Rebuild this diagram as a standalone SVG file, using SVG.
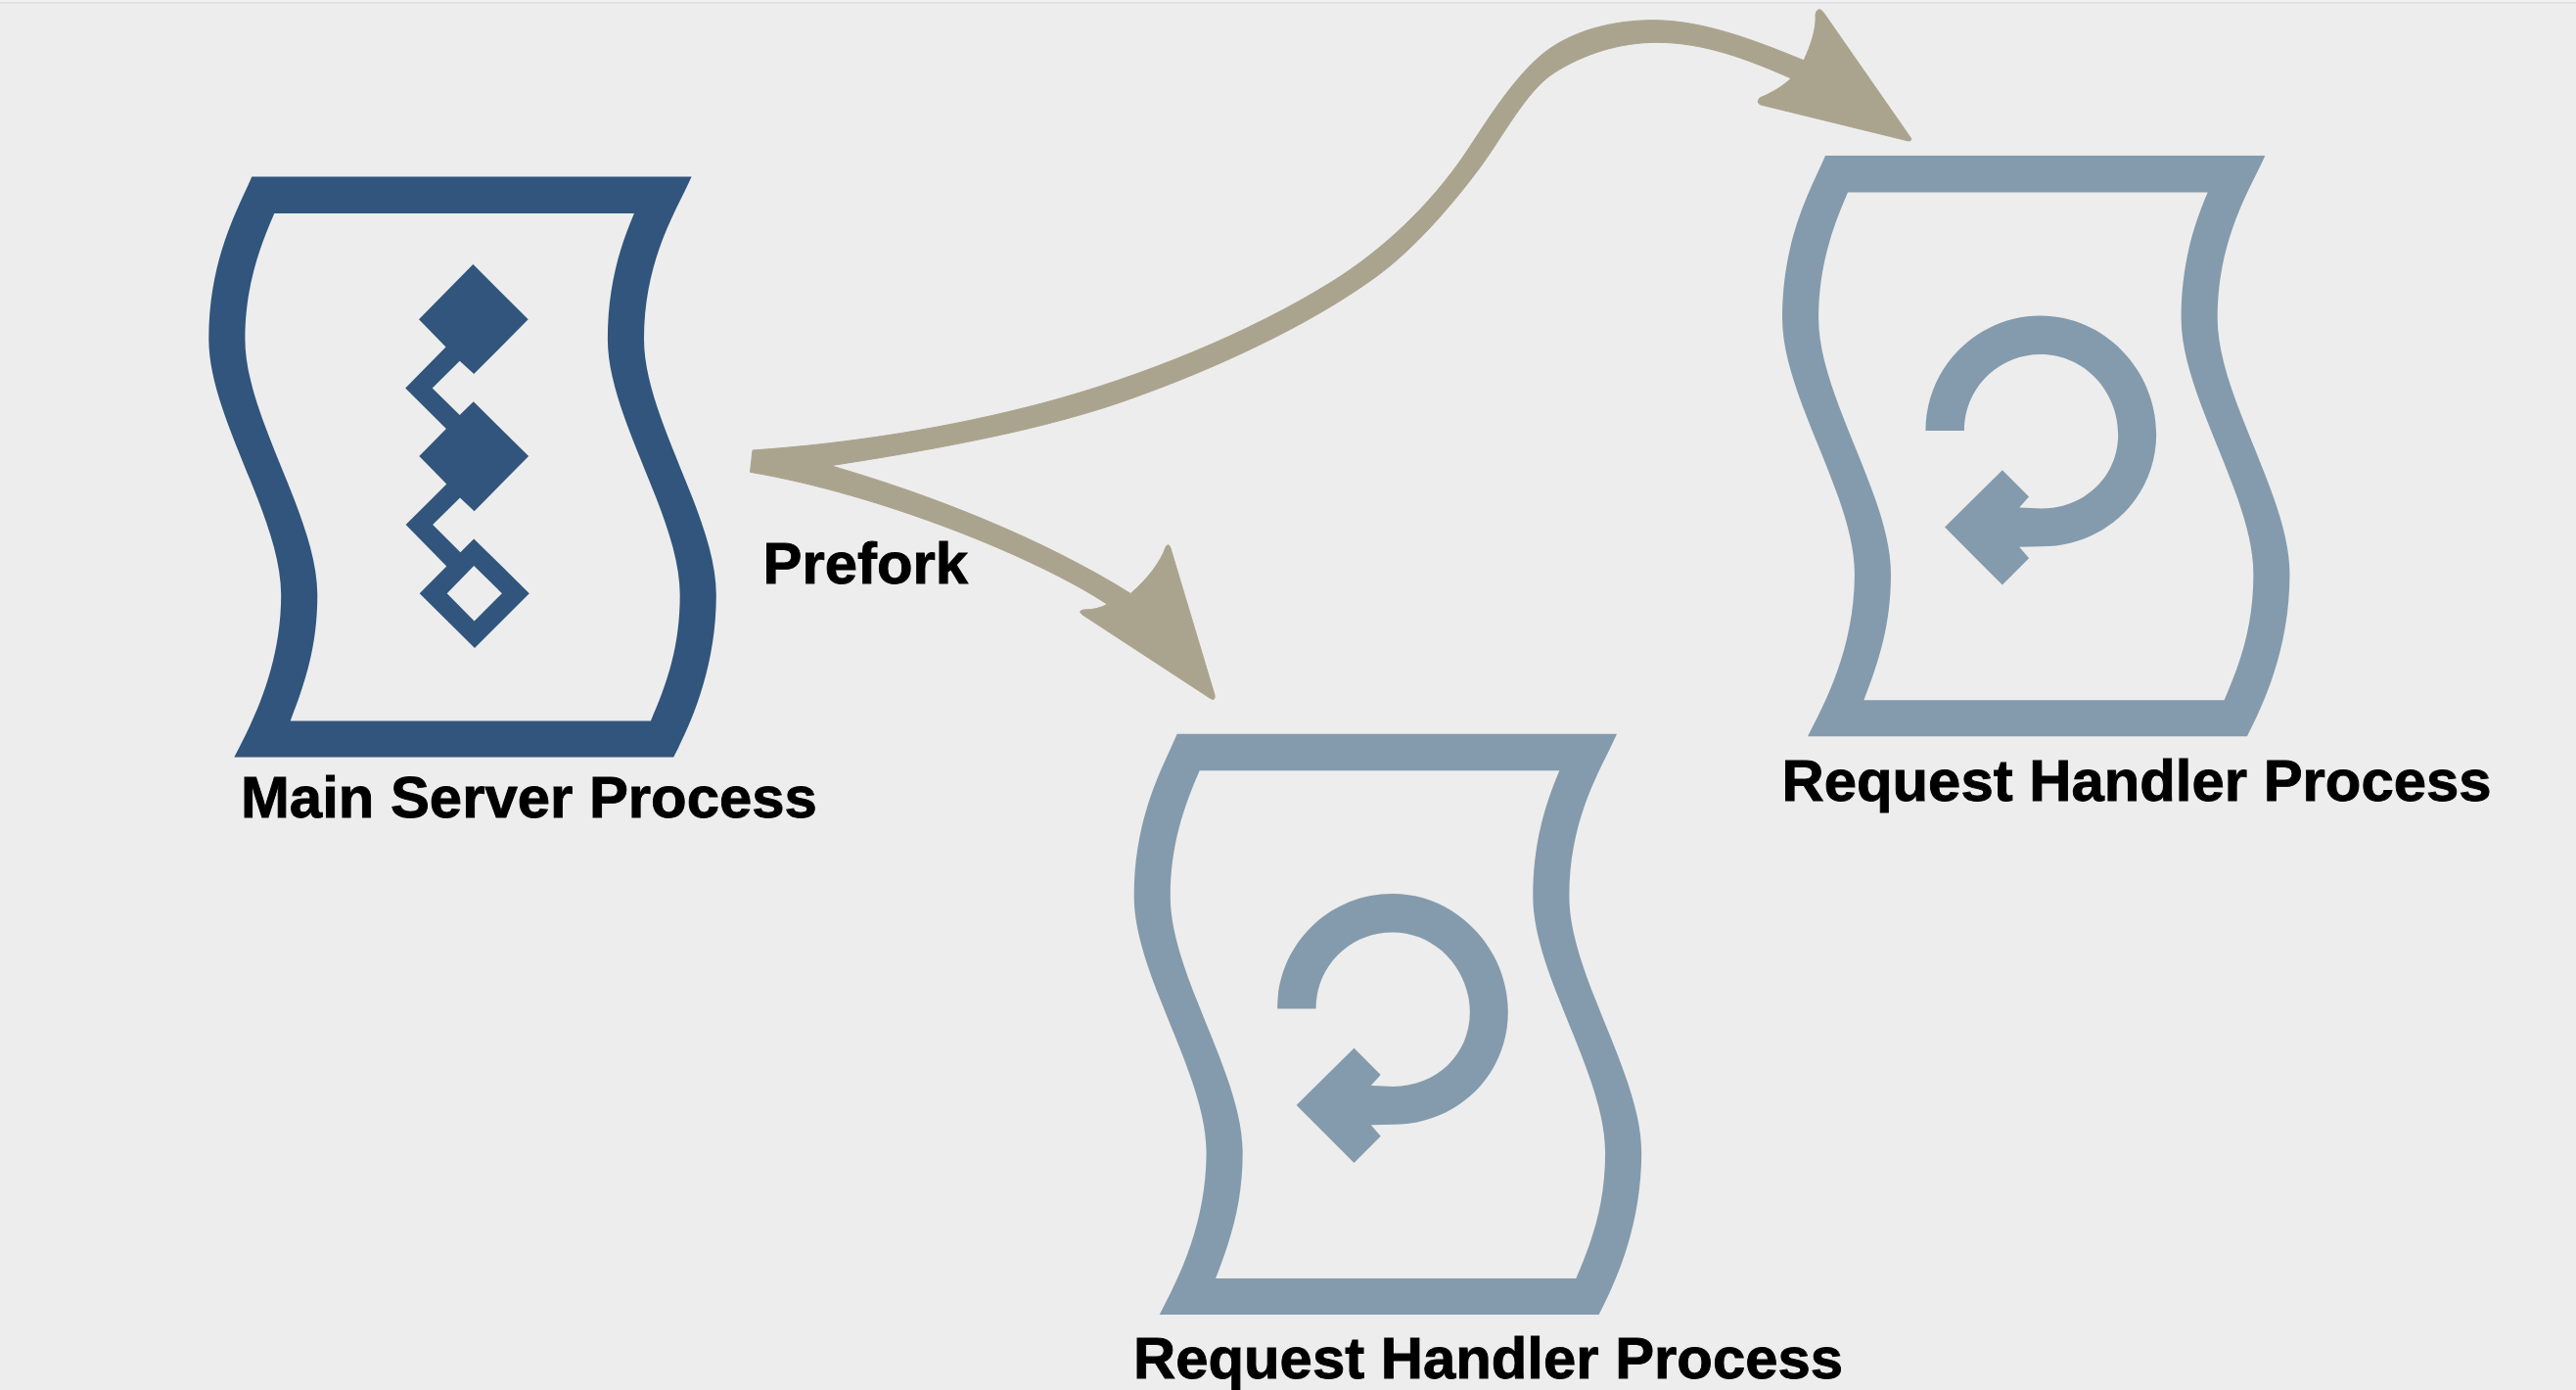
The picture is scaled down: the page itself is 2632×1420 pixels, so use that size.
<svg xmlns="http://www.w3.org/2000/svg" xmlns:xlink="http://www.w3.org/1999/xlink" width="2632" height="1420" viewBox="0 0 2632 1420">
<style>
.main{fill:#31557c}
.worker{fill:#849bad}
.label{font-family:"Liberation Sans",Arial,sans-serif;font-weight:700;font-size:59.85px;fill:#000;stroke:#000;stroke-width:.9}
.arrow{fill:#aaa38e;stroke:#aaa38e;stroke-width:1;stroke-linejoin:round}
</style>
<defs>
<path id="frame" fill-rule="evenodd" d="M257.3 180.4H706.6C692 214 658 264 658 346.4C658 426 731.8 528 731.8 607.6C731.8 685 704 743 688.2 773.6H239.3C255 743 287.2 685 287.2 607.6C287.2 528 213.3 426 213.3 346.4C213.3 264 243 214 257.3 180.4ZM280.3 217.9C264 255 250.4 295 250.4 346.4C250.4 426 324.3 528 324.3 607.6C324.3 660 312 697 296.7 736.6H664.9C682 697 694.7 660 694.7 607.6C694.7 528 620.9 426 620.9 346.4C620.9 295 632 255 648 217.9Z"/>
<path id="loop" d="M1967.5 440C1967.5 375 2020 322.6 2085 322.6C2150 322.6 2203.2 378 2203.2 443.6C2203.2 508 2151 558.3 2086 558.3Q2075 558.7 2063.2 558.7L2073.1 570.3L2045.9 597.6L1987 538.6L2045.9 480.2L2073.1 507.4L2063.2 518.6Q2075 519.4 2086.1 519.4C2130 519.4 2164.2 487 2164.2 443.6C2164.2 400 2130 361.9 2085 361.9C2042 361.9 2007 396 2006.9 440Z"/>
</defs>
<rect width="2632" height="1420" fill="#ededed"/>
<rect width="2632" height="2" fill="#f1f1f1"/>
<rect y="2" width="2632" height="1.7" fill="#dddde8"/>
<g id="connectors">
<path class="arrow" d="M769 460C870 453 970 437 1066 411.7C1166 385 1277 340 1360 288.3C1412 256 1461 210 1497 157C1519 124 1550 73 1583 50C1612 30 1650 20.7 1690 20.7C1740 20.7 1795 42 1843 61.7C1851 45 1856 28 1855 15Q1856 9 1860 10Q1862 11 1864 14L1951 139Q1955 144 1950 144L1799 107Q1794 105 1798 100C1810 95 1822 88 1830 80C1785 60 1740 43.3 1693 43.3C1655 43.3 1618 55 1587 75C1560 92.5 1535 140 1513 170C1487 205 1445 256 1400 287C1335 333 1245 375 1161.8 405C1070 439 950 460 848.8 475.7C950 505 1065 550 1155.2 606.4C1172 592 1186 574 1191 559Q1194 554 1196 560L1241 710Q1242 717 1236 713L1106 628Q1101 624 1107 623C1117 623 1125 621 1131.4 617.3C1060 570 900 505 766.5 482.3Z"/>
</g>
<g id="main-server-process">
<use xlink:href="#frame" class="main"/>
<path class="main" fill-rule="evenodd" d="M483.4 270.1L539.7 326.3L484.2 382.1L469.7 368.7L441.7 396.4L469.7 424.1L483.8 410.3L540.1 466.1L484.6 522.3L470 508.5L442.1 536.1L470.4 564.3L484.2 550.4L540.8 606.2L485 662L428.7 606.2L456.3 578.5L414.6 536.1L456.3 494.6L428.3 466.1L455.9 437.9L414.2 396.4L455.5 354.5L428 326.3ZM484.2 578.1L456.7 606.2L484.6 634.4L512.9 606.2Z"/>
<text class="label" x="246" y="835">Main Server Process</text>
</g>
<g id="prefork-label">
<text class="label" x="779.5" y="596">Prefork</text>
</g>
<g id="request-handler-bottom">
<use xlink:href="#frame" class="worker" transform="translate(945.4 569.4)"/>
<use xlink:href="#loop" class="worker" transform="translate(-662.4 590.5)"/>
<text class="label" x="1158" y="1407.5">Request Handler Process</text>
</g>
<g id="request-handler-right">
<use xlink:href="#frame" class="worker" transform="translate(1607.7 -21.4)"/>
<use xlink:href="#loop" class="worker"/>
<text class="label" x="1820.5" y="818">Request Handler Process</text>
</g>
</svg>
